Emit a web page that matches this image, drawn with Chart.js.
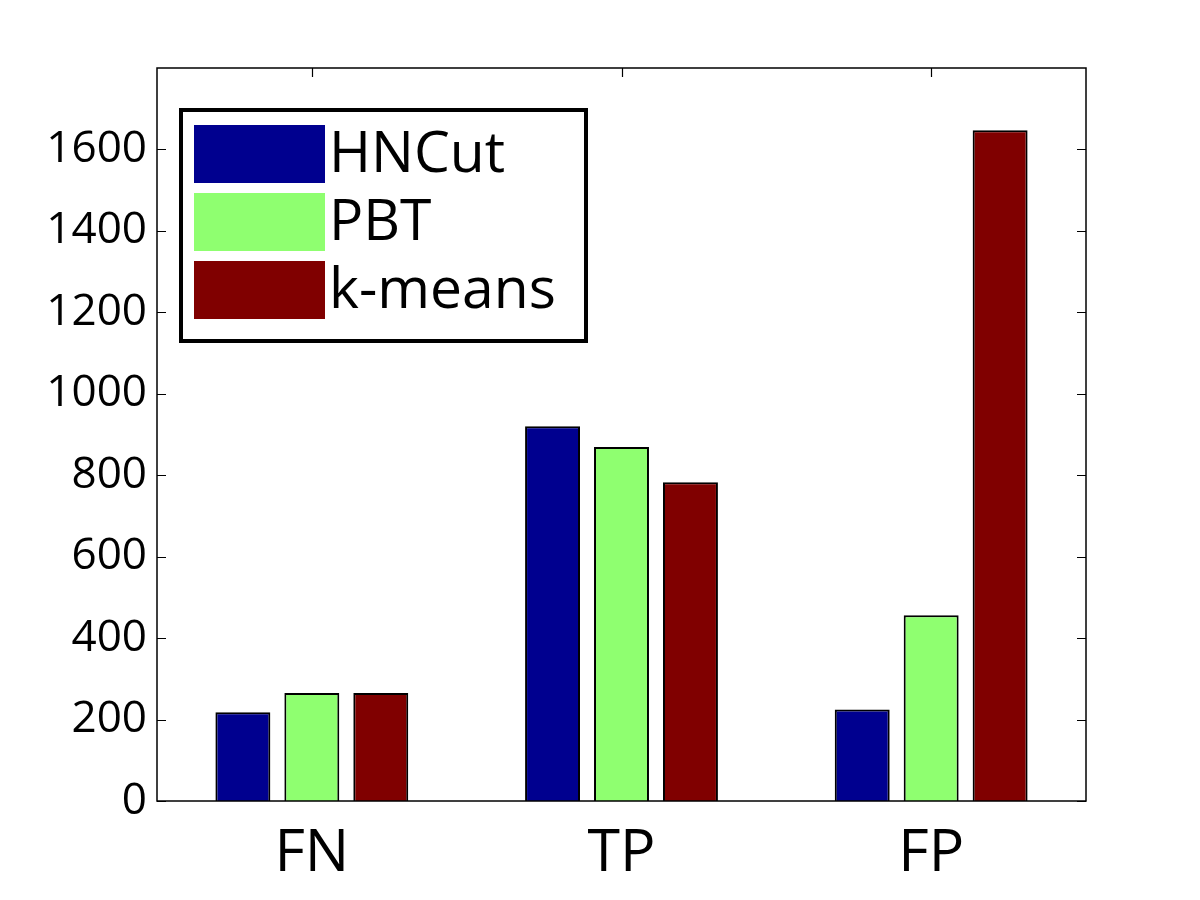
<!DOCTYPE html>
<html>
<head>
<meta charset="utf-8">
<script src="https://cdn.jsdelivr.net/npm/chart.js@4/dist/chart.umd.min.js"></script>
<style>
  html, body { margin: 0; padding: 0; background: #fff; }
  #wrap { width: 1200px; height: 900px; }
</style>
</head>
<body>
<div id="wrap"><canvas id="myChart" width="1200" height="900"></canvas></div>
<script>
// categories and series
var categories = ['FN', 'TP', 'FP'];
var hncut = [218, 920, 225];
var pbt = [265, 869, 456];
var kmeans = [265, 783, 1647];
var yTicks = [0, 200, 400, 600, 800, 1000, 1200, 1400, 1600];

var FONT = '"Open Sans", "DejaVu Sans", sans-serif';

// MATLAB style frame: box around the axes, ticks pointing inward
var framePlugin = {
  id: 'frame',
  afterDraw: function (chart) {
    var c = chart.ctx, a = chart.chartArea;
    var ys = chart.scales.y, xs = chart.scales.x;
    c.save();
    c.strokeStyle = '#000';
    c.lineWidth = 1.5;
    c.strokeRect(a.left, a.top, a.right - a.left, a.bottom - a.top);
    c.lineWidth = 1.2;
    c.beginPath();
    yTicks.forEach(function (v) {
      var py = Math.round(ys.getPixelForValue(v)) + 0.5;
      c.moveTo(a.left, py); c.lineTo(a.left + 9, py);
      c.moveTo(a.right, py); c.lineTo(a.right - 9, py);
    });
    categories.forEach(function (cat, i) {
      var px = Math.round(xs.getPixelForValue(i)) + 0.5;
      c.moveTo(px, a.top); c.lineTo(px, a.top + 9);
    });
    c.stroke();
    c.restore();
  }
};

// legend box in the upper left corner of the axes
var legendPlugin = {
  id: 'boxLegend',
  afterDraw: function (chart) {
    var c = chart.ctx, a = chart.chartArea;
    var x0 = a.left + 24, y0 = a.top + 42;
    c.save();
    c.lineWidth = 4;
    c.strokeStyle = '#000';
    c.strokeRect(x0, y0, 405, 231);
    c.font = '57px ' + FONT;
    c.textBaseline = 'middle';
    c.fillStyle = '#000';
    chart.data.datasets.forEach(function (ds, i) {
      var cy = y0 + 44 + i * 68;
      c.fillStyle = ds.backgroundColor;
      c.fillRect(x0 + 13, cy - 29, 131, 58);
      c.fillStyle = '#000';
      c.fillText(ds.label, x0 + 148, cy + 2);
    });
    c.restore();
  }
};

var ctx = document.getElementById('myChart').getContext('2d');
var chart = new Chart(ctx, {
  type: 'bar',
  data: {
    labels: categories,
    datasets: [
      { label: 'HNCut', data: hncut, backgroundColor: '#00008F' },
      { label: 'PBT', data: pbt, backgroundColor: '#8FFF70' },
      { label: 'k-means', data: kmeans, backgroundColor: '#800000' }
    ]
  },
  options: {
    responsive: false,
    animation: false,
    devicePixelRatio: 1,
    layout: { padding: { top: 68, right: 114, left: 0, bottom: 0 } },
    datasets: {
      bar: {
        borderColor: '#000',
        borderWidth: 2,
        categoryPercentage: 0.668,
        barPercentage: 0.797
      }
    },
    plugins: {
      legend: { display: false },
      tooltip: { enabled: false }
    },
    scales: {
      x: {
        offset: true,
        grid: { display: false, drawTicks: false },
        border: { display: false },
        ticks: {
          color: '#000',
          padding: 18,
          font: { family: FONT, size: 59 }
        },
        afterFit: function (s) { s.height = 99; }
      },
      y: {
        min: 0,
        max: 1800,
        grid: { display: false, drawTicks: false },
        border: { display: false },
        afterBuildTicks: function (s) {
          s.ticks = yTicks.map(function (v) { return { value: v }; });
        },
        ticks: {
          color: '#000',
          padding: 10,
          font: { family: FONT, size: 44 },
          callback: function (v) { return String(v); }
        },
        afterFit: function (s) { s.width = 157; }
      }
    }
  },
  plugins: [framePlugin, legendPlugin]
});
</script>
</body>
</html>
